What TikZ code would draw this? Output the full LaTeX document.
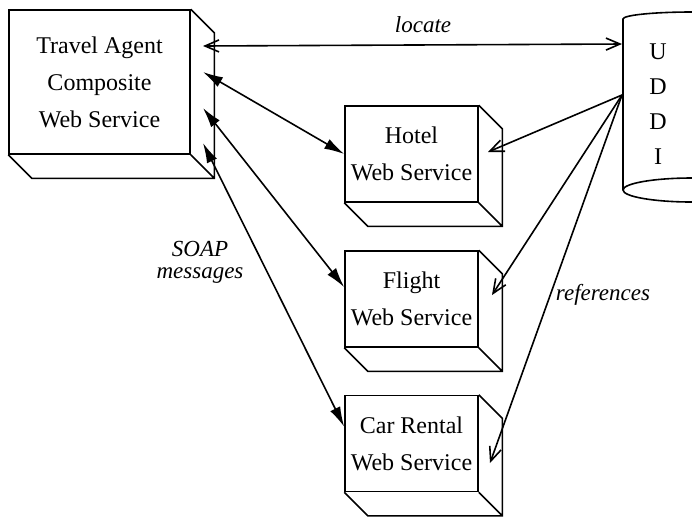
\documentclass[tikz,border=0pt]{standalone}
\usepackage{fontspec}
\setmainfont{Liberation Serif}
\usetikzlibrary{arrows.meta}

\begin{document}
\begin{tikzpicture}[x=0.5pt, y=-0.5pt, line width=0.8pt,
    box/.style={draw, rectangle, align=center, inner sep=0pt, font=\fontsize{12}{18.5}\selectfont},
    service/.style={box, minimum width=66.5pt, minimum height=48pt},
    lbl/.style={align=center, font=\fontsize{11.5}{11}\selectfont\itshape},
    msg/.style={{Latex[length=10pt,width=5.5pt]}-{Latex[length=10pt,width=5.5pt]}},
    ref/.style={-{Straight Barb[length=7pt,width=6pt]}}]
    \useasboundingbox (0,0) rectangle (692,516);

    \node (TA) [box, minimum width=90.5pt, minimum height=72pt] at (99.5,82) {Travel Agent\\Composite\\Web Service};
    \node (H) [service] at (411.5,154) {Hotel\\Web Service};
    \node (F) [service] at (411.5,299) {Flight\\Web Service};
    \node (CR) [service] at (411.5,443.5) {Car Rental\\Web Service};
    \node (U) [align=center, font=\fontsize{12}{17.5}\selectfont] at (658,104.5) {U\\D\\D\\I};

    % depth of the boxes
    \foreach \n in {TA,H,F,CR}
        \draw (\n.north east) -- ++(11.75pt,-11.75pt) |- ([shift={(11.75pt,-11.75pt)}]\n.south west) -- (\n.south west)
              (\n.south east) -- ++(11.75pt,-11.75pt);

    % UDDI cylinder
    \draw (623,190) -- (623,19) arc[start angle=180, end angle=0, x radius=34.5pt, y radius=3.5pt] -- (761,190);
    \draw (692,190) ellipse [x radius=34.5pt, y radius=6pt];

    \coordinate (TA1) at (203,46);
    \coordinate (TA2) at (203,72);
    \coordinate (TA3) at (203,108);
    \coordinate (TA4) at (203,143);
    \coordinate (U1) at (622,44);
    \coordinate (U2) at (622,95);
    \coordinate (H1) at (488,152);
    \coordinate (F1) at (492,295);
    \coordinate (CR1) at (490,463);

    \path (TA1) [{Straight Barb[length=7pt,width=6pt]}-{Straight Barb[length=7pt,width=6pt]}] edge (U1);
    \path (TA2) [msg] edge (H.west);
    \path (TA3) [msg] edge (F.170);
    \path (TA4) [msg] edge (CR.166);
    \path (U2) [ref] edge (H1);
    \path (U2) [ref] edge (F1);
    \path (U2) [ref] edge (CR1);

    \node (loc) [lbl] at (423,25) {locate};
    \node (soap) [lbl] at (200,262) {SOAP\\messages};
    \node (refs) [lbl] at (603,295) {references};
\end{tikzpicture}
\end{document}
